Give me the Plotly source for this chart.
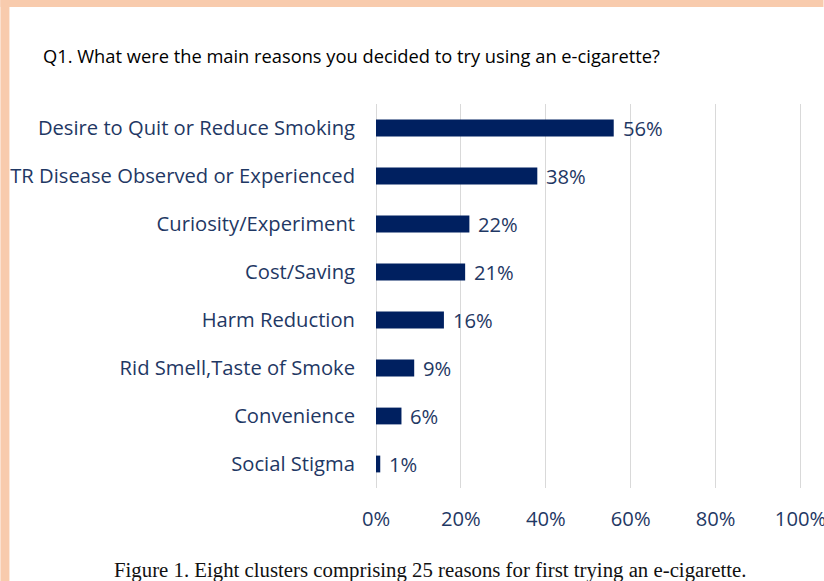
import plotly.graph_objects as go

# Survey results: share of respondents citing each reason
reasons = [
    "Desire to Quit or Reduce Smoking",
    "TR Disease Observed or Experienced",
    "Curiosity/Experiment",
    "Cost/Saving",
    "Harm Reduction",
    "Rid Smell,Taste of Smoke",
    "Convenience",
    "Social Stigma",
]
shares = [0.56, 0.38, 0.22, 0.21, 0.16, 0.09, 0.06, 0.01]
tick_values = [0, 0.2, 0.4, 0.6, 0.8, 1.0]
tick_labels = ["0%", "20%", "40%", "60%", "80%", "100%"]

title_text = "Q1. What were the main reasons you decided to try using an e-cigarette?"
caption_text = "Figure 1. Eight clusters comprising 25 reasons for first trying an e-cigarette."

W, H = 824, 581
X_MAX = 1.02                      # a little headroom so the 100% gridline is drawn
UNIT_PX = 425                     # pixels spanned by 0..100%
L, T, B = 376, 104, 93
plot_w = UNIT_PX * X_MAX
R = W - L - plot_w
plot_h = H - T - B

NAVY = "#002060"
TEXT_NAVY = "#1F3864"
PEACH = "#F8CBAD"
FONT = "'Open Sans', Lato, sans-serif"
LABEL_SIZE = 20.2


def px_to_paper_x(px):
    return (px - L) / plot_w


def px_to_paper_y(py):
    return (H - B - py) / plot_h


fig = go.Figure(
    go.Bar(
        x=shares,
        y=reasons,
        orientation="h",
        marker=dict(color=NAVY, line=dict(width=0)),
        width=0.35,
        hoverinfo="skip",
    )
)

# value labels just past each bar end
for r, v in zip(reasons, shares):
    fig.add_annotation(
        x=v, y=r, xref="x", yref="y",
        text=f"{round(v * 100)}%",
        showarrow=False, xanchor="left", yanchor="middle",
        xshift=7,
        font=dict(family=FONT, size=LABEL_SIZE, color=TEXT_NAVY),
    )

# caption below the chart
fig.add_annotation(
    x=px_to_paper_x(430), y=px_to_paper_y(570), xref="paper", yref="paper",
    text=caption_text, showarrow=False, xanchor="center", yanchor="middle",
    font=dict(family="'Liberation Serif', 'Times New Roman', serif", size=20.8, color="#111111"),
)

# peach frame strips along the top and left edges
fig.add_shape(type="rect", xref="paper", yref="paper", layer="below",
              x0=px_to_paper_x(0), x1=px_to_paper_x(W), y0=px_to_paper_y(7), y1=px_to_paper_y(0),
              fillcolor=PEACH, line=dict(width=0))
fig.add_shape(type="rect", xref="paper", yref="paper", layer="below",
              x0=px_to_paper_x(0), x1=px_to_paper_x(9), y0=px_to_paper_y(H), y1=px_to_paper_y(0),
              fillcolor=PEACH, line=dict(width=0))

fig.update_layout(
    width=W, height=H, autosize=False,
    margin=dict(l=L, r=R, t=T, b=B, pad=0, autoexpand=False),
    paper_bgcolor="white",
    plot_bgcolor="white",
    showlegend=False,
    title=dict(
        text=title_text, x=43 / W, xanchor="left", y=1 - 57 / H, yanchor="middle",
        xref="container", yref="container",
        font=dict(family=FONT, size=18.3, color="#000000"),
    ),
    xaxis=dict(
        range=[0, X_MAX], tickvals=tick_values, ticktext=tick_labels,
        automargin=False,
        showgrid=True, gridcolor="#D9D9D9", gridwidth=1.3,
        zeroline=True, zerolinecolor="#D9D9D9", zerolinewidth=1.3,
        showline=False, ticks="", ticklabelstandoff=17,
        ticklabeloverflow="allow",
        tickfont=dict(family=FONT, size=LABEL_SIZE, color=TEXT_NAVY),
        fixedrange=True,
    ),
    yaxis=dict(
        categoryorder="array", categoryarray=reasons,
        range=[len(reasons) - 0.5, -0.5],
        automargin=False,
        showgrid=False, zeroline=False, showline=False, ticks="",
        ticklabelstandoff=20,
        tickfont=dict(family=FONT, size=LABEL_SIZE, color=TEXT_NAVY),
        fixedrange=True,
    ),
)

# the "100%" label runs past the right edge; clip it instead of letting the page scroll
no_scroll = (
    "document.documentElement.style.overflow='hidden';"
    "document.body.style.overflow='hidden';"
    "document.body.style.margin='0';"
)

fig.write_html(
    "out.html",
    config={"responsive": False, "displayModeBar": False},
    post_script=no_scroll,
)
